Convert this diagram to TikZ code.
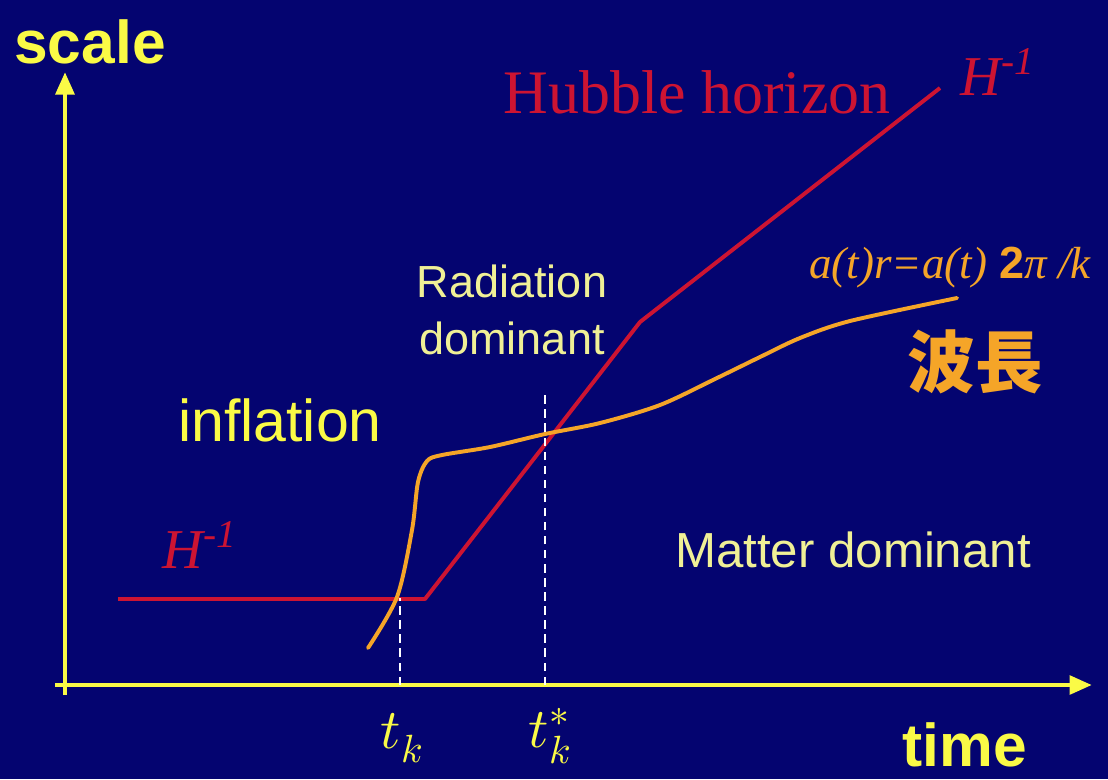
\documentclass[tikz,border=0pt]{standalone}
\usepackage{fontspec}
\usepackage{unicode-math}
\setmainfont{Liberation Sans}
\newfontfamily\serfont{Liberation Serif}
\newfontfamily\cjkfont{Noto Sans CJK JP}
\usetikzlibrary{arrows.meta,positioning}

\definecolor{bgnavy}{RGB}{4,4,112}
\definecolor{axisyellow}{RGB}{250,250,70}
\definecolor{paleyellow}{RGB}{240,240,150}
\definecolor{hubred}{RGB}{205,20,50}
\definecolor{waveorange}{RGB}{245,165,40}

\begin{document}
\begin{tikzpicture}[
    x=0.025cm, y=-0.025cm,
    axis/.style={draw=axisyellow, line width=3.5pt, -{Triangle[length=16pt,width=13pt]}},
    hubble/.style={draw=hubred, line width=2.8pt, line join=round},
    wave/.style={draw=waveorange, line width=2.8pt, line cap=round},
    guide/.style={draw=white, line width=1.2pt, dashed, dash pattern=on 6pt off 4pt},
    axislabel/.style={text=axisyellow, font=\fontsize{43}{46}\selectfont\bfseries},
    eralabel/.style={text=paleyellow, font=\fontsize{35}{40}\selectfont},
    redlabel/.style={text=hubred, font=\fontsize{40}{44}\selectfont\serfont\itshape},
    tlabel/.style={text=axisyellow, font=\fontsize{40}{44}\selectfont}
]

% Background
\fill[bgnavy] (0,0) rectangle (1108,779);
\useasboundingbox (0,0) rectangle (1108,779);

% Axes
\coordinate (origin) at (65,685);
\coordinate (xend) at (1092,685);
\coordinate (yend) at (65,72);
\draw[axis] (55,685) -- (xend);
\draw[axis] (65,695) -- (yend);
\node[axislabel] (scale) at (90,42) {scale};
\node[axislabel] (time) at (965,745) {time};

% Hubble horizon
\coordinate (hstart) at (118,599);
\coordinate (hkink) at (425,599);
\coordinate (hbend) at (640,322);
\coordinate (hend) at (940,88);
\draw[hubble] (hstart) -- (hkink) -- (hbend) -- (hend);
\node[text=hubred, font=\fontsize{44}{48}\selectfont\serfont] (hubtext) at (697,92) {Hubble horizon};
\node[redlabel] (hinvtop) at (998,72) {H\textsuperscript{-1}};
\node[redlabel] (hinvlow) at (200,545) {H\textsuperscript{-1}};

% Wavelength
\draw[wave] plot[smooth, tension=0.5] coordinates {
    (368,648) (397,597) (412,530) (418,482) (427,461) (442,455)
    (490,447) (545,434) (600,423) (660,405) (717,378) (760,357)
    (800,338) (850,321) (957,298)};
\node[text=waveorange, font=\fontsize{48}{52}\selectfont\cjkfont\bfseries] (wavelen) at (975,362) {波長};
\node[text=waveorange, font=\fontsize{32}{36}\selectfont] (wavefml) at (950,268)
    {{\serfont\itshape a(t)r=a(t)} \textbf{2}{\serfont\itshape π /k}};

% Crossing times
\coordinate (tkfoot) at (400,685);
\coordinate (tktop) at (400,598);
\coordinate (tsfoot) at (545,685);
\coordinate (tstop) at (545,395);
\draw[guide] (tkfoot) -- (tktop);
\draw[guide] (tsfoot) -- (tstop);
\node[tlabel] (tk) at (402,738) {$t_k$};
\node[tlabel] (tstar) at (550,736) {$t_k^{*}$};

% Eras
\node[text=axisyellow, font=\fontsize{42}{46}\selectfont] (infl) at (280,420) {inflation};
\node[eralabel, font=\fontsize{32}{40}\selectfont, align=center] (raddom) at (512,310) {Radiation\\dominant};
\node[eralabel] (matdom) at (853,550) {Matter dominant};

\end{tikzpicture}
\end{document}
